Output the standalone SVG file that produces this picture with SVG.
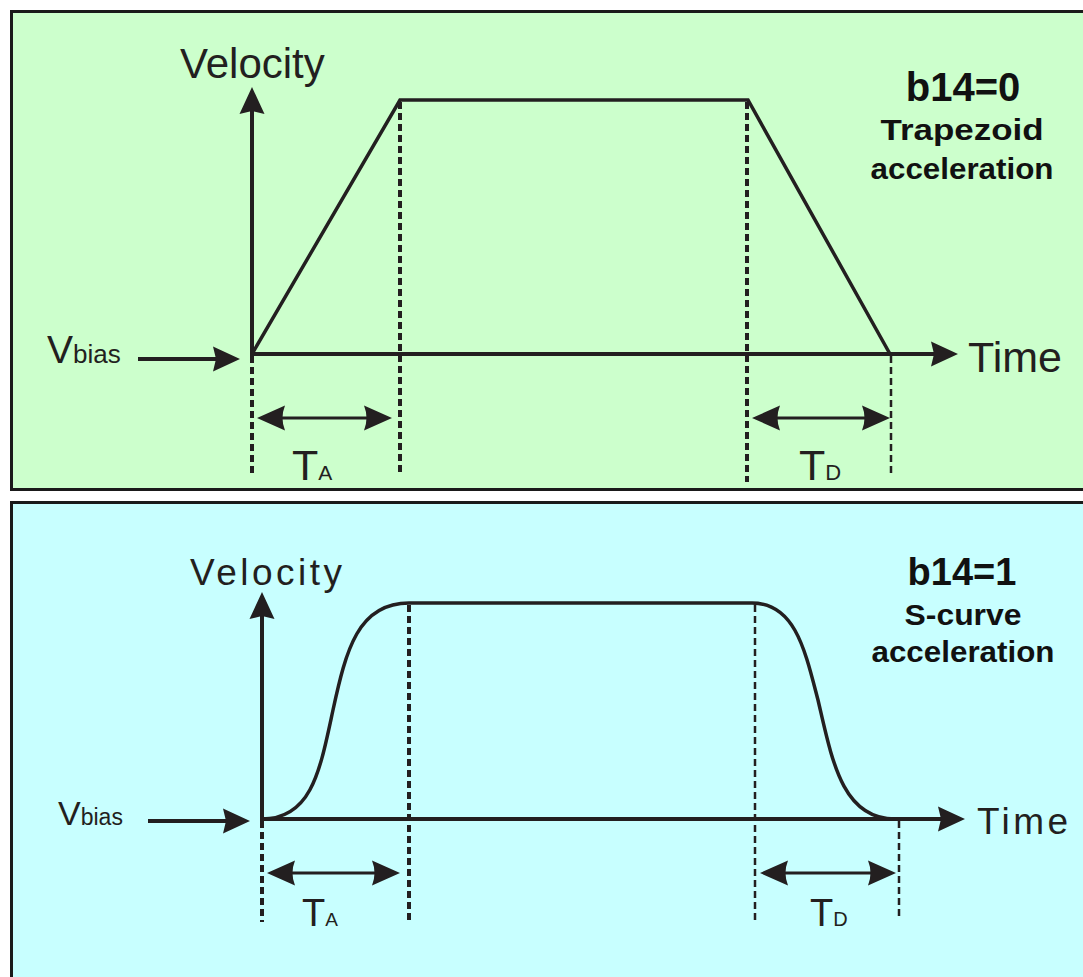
<svg xmlns="http://www.w3.org/2000/svg" width="1083" height="977" viewBox="0 0 1083 977">
<defs>
<style>
.panel{stroke:#1a1a1a;stroke-width:3}
.t{font-family:"Liberation Sans",Arial,sans-serif;fill:#231F20}
.b{font-family:"Liberation Sans",Arial,sans-serif;font-weight:bold;fill:#111;text-anchor:middle}
.ax{stroke:#231F20;stroke-width:4;fill:none}
.cv{stroke:#231F20;stroke-width:3.5;fill:none;stroke-linejoin:miter}
.dim{stroke:#231F20;stroke-width:3;fill:none}
.dk{stroke:#231F20;stroke-width:4;stroke-dasharray:7,4;fill:none}
.dn{stroke:#231F20;stroke-width:2.5;stroke-dasharray:7,4;fill:none}
</style>
<marker id="ah" viewBox="-30 -15 32 30" markerWidth="32" markerHeight="30" refX="-10" refY="0" orient="auto" markerUnits="userSpaceOnUse">
<path d="M0,0 L-27,-12.5 L-24,0 L-27,12.5 Z" fill="#231F20"/>
</marker>
<marker id="dh" viewBox="-30 -15 32 30" markerWidth="32" markerHeight="30" refX="-8" refY="0" orient="auto-start-reverse" markerUnits="userSpaceOnUse">
<path d="M0,0 L-28,-12.5 Q-23,0 -28,12.5 Z" fill="#231F20"/>
</marker>
</defs>

<g id="panel-trapezoid">
<rect class="panel" x="11.5" y="11.5" width="1090" height="478" fill="#CCFFCC"/>
<text class="t" x="180" y="78" font-size="42">Velocity</text>
<text class="t" x="968" y="372" font-size="43">Time</text>
<text class="b" x="963" y="101" font-size="40">b14=0</text>
<text class="b" x="962" y="140" font-size="30" textLength="163" lengthAdjust="spacingAndGlyphs">Trapezoid</text>
<text class="b" x="962" y="179" font-size="30" textLength="183" lengthAdjust="spacingAndGlyphs">acceleration</text>
<text class="t" x="47" y="363"><tspan font-size="39">V</tspan><tspan font-size="26">bias</tspan></text>
<text class="t" x="292" y="480"><tspan font-size="43">T</tspan><tspan font-size="21">A</tspan></text>
<text class="t" x="799" y="480"><tspan font-size="43">T</tspan><tspan font-size="22">D</tspan></text>
</g>

<g id="panel-scurve">
<rect class="panel" x="11.5" y="502.5" width="1090" height="500" fill="#C8FFFF"/>
<text class="t" x="190" y="585" font-size="37" textLength="152" lengthAdjust="spacing">Velocity</text>
<text class="t" x="977" y="834" font-size="37" textLength="91" lengthAdjust="spacing">Time</text>
<text class="b" x="962" y="585" font-size="38">b14=1</text>
<text class="b" x="963" y="625" font-size="29" textLength="117" lengthAdjust="spacingAndGlyphs">S-curve</text>
<text class="b" x="963" y="662" font-size="29" textLength="183" lengthAdjust="spacingAndGlyphs">acceleration</text>
<text class="t" x="58" y="825"><tspan font-size="34">V</tspan><tspan font-size="23">bias</tspan></text>
<text class="t" x="302" y="926"><tspan font-size="38">T</tspan><tspan font-size="19">A</tspan></text>
<text class="t" x="810" y="926"><tspan font-size="38">T</tspan><tspan font-size="20">D</tspan></text>
</g>

<g id="connectors">
<line class="dk" x1="252" y1="356" x2="252" y2="476"/>
<line class="dk" x1="400" y1="102" x2="400" y2="476"/>
<line class="dk" x1="747" y1="102" x2="747" y2="482"/>
<line class="dn" x1="891" y1="356" x2="891" y2="476"/>
<line class="ax" x1="252" y1="356" x2="252" y2="97" marker-end="url(#ah)"/>
<line class="ax" x1="250" y1="354" x2="948" y2="354" marker-end="url(#ah)"/>
<line class="ax" x1="138" y1="359" x2="230" y2="359" marker-end="url(#ah)"/>
<polyline class="cv" points="252,354 400,100 748,100 890,354"/>
<line class="dim" x1="265" y1="418" x2="384" y2="418" marker-start="url(#dh)" marker-end="url(#dh)"/>
<line class="dim" x1="760" y1="418" x2="882" y2="418" marker-start="url(#dh)" marker-end="url(#dh)"/>
<line class="dk" x1="262" y1="821" x2="262" y2="922"/>
<line class="dk" x1="409" y1="605" x2="409" y2="922"/>
<line class="dn" x1="755" y1="605" x2="755" y2="920"/>
<line class="dn" x1="899" y1="821" x2="899" y2="920"/>
<line class="ax" x1="262" y1="821" x2="262" y2="602" marker-end="url(#ah)"/>
<line class="ax" x1="260" y1="819" x2="955" y2="819" marker-end="url(#ah)"/>
<line class="ax" x1="148" y1="821" x2="240" y2="821" marker-end="url(#ah)"/>
<path class="cv" d="M262,819 C312,819 320,770 333,710 C346,650 358,603 409,603 L752,603 C795,603 805,650 818,700 C832,760 842,819 895,819"/>
<line class="dim" x1="275" y1="873" x2="392" y2="873" marker-start="url(#dh)" marker-end="url(#dh)"/>
<line class="dim" x1="768" y1="873" x2="888" y2="873" marker-start="url(#dh)" marker-end="url(#dh)"/>
</g>
</svg>
